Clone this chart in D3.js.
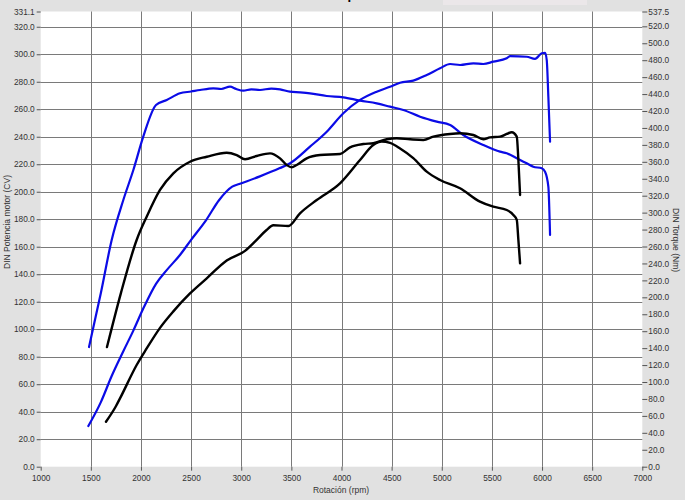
<!DOCTYPE html>
<html>
<head>
<meta charset="utf-8">
<script src="https://cdn.jsdelivr.net/npm/d3@7"></script>
<style>
  html, body { margin: 0; padding: 0; background: #ffffff; }
  svg { display: block; }
  text { font-family: "Liberation Sans", Arial, sans-serif; }
</style>
</head>
<body>
<svg id="chart" width="685" height="504"></svg>
<script>
// ---------- data ----------
const rpmTicks = [1000,1500,2000,2500,3000,3500,4000,4500,5000,5500,6000,6500,7000];
const leftTicks = [0,20,40,60,80,100,120,140,160,180,200,220,240,260,280,300,320,331.1];
const rightTicks = [0,20,40,60,80,100,120,140,160,180,200,220,240,260,280,300,320,340,360,380,400,420,440,460,480,500,520,537.5];

// Blue run - power (CV)
const bluePowerRpm = [1475,1600,1708,1824,1924,2023,2150,2257,2389,2500,2650,2780,2910,2980,3180,3380,3487,3686,3853,4018,4185,4351,4484,4584,4716,4850,4983,5083,5182,5315,5414,5514,5648,5681,5847,5930,5997,6030,6047,6063,6080];
const bluePowerCV = [29.6,47,66,84,99,115,133,143,154,165,179.4,194,203.7,205.6,211,217,220.7,232.8,243.7,257.1,266.8,272.8,276.4,279.3,280.8,284.9,289.8,292.9,292.2,293.4,292.9,294.6,297.1,298.7,298.2,296.6,300.7,301.1,295.8,269.1,236.4];

// Blue run - torque (Nm)
const blueTorqueRpm = [1482,1600,1708,1824,1924,2023,2150,2257,2389,2500,2589,2722,2800,2888,2950,3021,3100,3187,3300,3387,3486,3586,3686,3853,4018,4185,4351,4484,4617,4784,4950,5083,5215,5414,5581,5648,5748,5847,5913,5997,6030,6063,6080];
const blueTorqueNm = [141.3,205,267.7,314.9,350.3,389.7,427.1,433,440.9,443,444.8,446.8,446,448.7,446,444,445.5,444.8,446.5,445.6,442.8,442,440.9,437.7,436.2,432.2,429.1,425.1,421.2,413.3,407.4,403.5,391.7,379.9,372,370.1,364.2,358.2,354.2,352.3,348.3,330.6,273.6];

// Black run - torque (Nm)
const blackTorqueRpm = [1661,1800,1957,2057,2190,2323,2489,2656,2855,2955,3038,3154,3287,3387,3454,3503,3553,3653,3786,3985,4085,4218,4317,4451,4551,4684,4816,4916,5083,5182,5315,5414,5481,5581,5648,5698,5748,5764,5781];
const blackTorqueNm = [141.3,205,267.7,295.2,326.8,346.4,360.1,366,370.8,368,363,366.9,370,364.1,356.2,353.5,356.2,364.1,368,369.2,377.1,381,381.9,386.6,387.8,386.6,385.8,389.7,392.9,393.7,391.7,386.6,388.9,389.7,392.9,394.9,389.7,362.1,320.8];

// Black run - power (CV)
const blackPowerRpm = [1651,1750,1800,1957,2057,2190,2323,2489,2656,2855,3038,3154,3250,3320,3470,3586,3753,3985,4185,4317,4400,4484,4584,4716,4850,4983,5182,5381,5514,5648,5714,5748,5764,5781];
const blackPowerCV = [32.7,44,51,74,86,101,113,126,137,150,157,165,172,175.6,175.1,184.3,194,206.1,223.1,234,236.5,235.5,231.5,224.5,214.6,208.5,202.5,192.8,189.1,186.7,183.1,179.5,165,147.9];

// ---------- chart ----------
(function () {
const W = 685, H = 504;
const svg = d3.select("#chart");
const pL = 40.7, pR = 642.3, pT = 11.5, pB = 466.7;

const x = d3.scaleLinear().domain([1000, 7000]).range([pL, pR]);
const yL = d3.scaleLinear().domain([0, 331.1]).range([pB, pT]);
const yR = d3.scaleLinear().domain([0, 537.5]).range([pB, pT]);

// backgrounds
svg.append("rect").attr("x",0).attr("y",0).attr("width",W).attr("height",500).attr("fill","#e1e1e1");
svg.append("rect").attr("x",443).attr("y",0).attr("width",144).attr("height",5).attr("fill","#ebe7e9");
svg.append("rect").attr("x",pL).attr("y",pT).attr("width",pR-pL).attr("height",pB-pT).attr("fill","#ffffff");

// title, mostly above the visible frame (as in the reference, only its descender peeks in)
svg.append("text").attr("x",341).attr("y",-1).attr("text-anchor","middle")
  .attr("font-size",13).attr("font-weight","bold").attr("fill","#000").text("Curvas de potencia");

// grid
const grid = svg.append("g");
grid.selectAll("line.h").data(leftTicks.filter(d => d > 0 && d < 331)).join("line")
  .attr("x1",pL).attr("x2",pR)
  .attr("y1",d => Math.round(yL(d))+0.5).attr("y2",d => Math.round(yL(d))+0.5)
  .attr("stroke","#7a7a7a").attr("stroke-width",1);
grid.selectAll("line.v").data(rpmTicks.filter(d => d > 1000 && d < 7000)).join("line")
  .attr("y1",pT).attr("y2",pB)
  .attr("x1",d => Math.round(x(d))+0.5).attr("x2",d => Math.round(x(d))+0.5)
  .attr("stroke","#7a7a7a").attr("stroke-width",1);

// axes
const axisColor = "#555";
const fmt = d => d.toFixed(1);
const gL = svg.append("g").attr("transform",`translate(${pL},0)`)
  .call(d3.axisLeft(yL).tickValues(leftTicks).tickFormat(fmt).tickSize(4).tickPadding(2));
const gR = svg.append("g").attr("transform",`translate(${pR},0)`)
  .call(d3.axisRight(yR).tickValues(rightTicks).tickFormat(fmt).tickSize(5).tickPadding(1));
const gB = svg.append("g").attr("transform",`translate(0,${pB})`)
  .call(d3.axisBottom(x).tickValues(rpmTicks).tickFormat(d3.format("d")).tickSize(4).tickPadding(4));
[gL,gR,gB].forEach(g => {
  g.select(".domain").remove();
  g.selectAll(".tick line").attr("stroke",axisColor);
  g.selectAll(".tick text").attr("fill","#333").attr("font-size",8.3)
    .attr("font-family","'Liberation Sans', Arial, sans-serif");
});

// axis titles
svg.append("text").attr("x",341).attr("y",493).attr("text-anchor","middle")
  .attr("font-size",8.5).attr("fill","#333").text("Rotación (rpm)");
svg.append("text").attr("transform","translate(10,222) rotate(-90)").attr("text-anchor","middle")
  .attr("font-size",8.5).attr("fill","#333").text("DIN Potencia motor (CV)");
svg.append("text").attr("transform","translate(673,240) rotate(90)").attr("text-anchor","middle")
  .attr("font-size",8.5).attr("fill","#333").text("DIN Torque (Nm)");

// curves
function drawLine(rpms, vals, yScale, color, width) {
  const pts = rpms.map((r,i) => [r, vals[i]]);
  const line = d3.line().x(d => x(d[0])).y(d => yScale(d[1])).curve(d3.curveMonotoneX);
  svg.append("path").datum(pts).attr("d", line)
    .attr("fill","none").attr("stroke",color).attr("stroke-width",width)
    .attr("stroke-linejoin","round").attr("stroke-linecap","round");
}
const BLUE = "#0b0be6";
drawLine(bluePowerRpm, bluePowerCV, yL, BLUE, 2.2);
drawLine(blueTorqueRpm, blueTorqueNm, yR, BLUE, 2.2);
drawLine(blackPowerRpm, blackPowerCV, yL, "#000", 2.4);
drawLine(blackTorqueRpm, blackTorqueNm, yR, "#000", 2.4);
})();
</script>
</body>
</html>
